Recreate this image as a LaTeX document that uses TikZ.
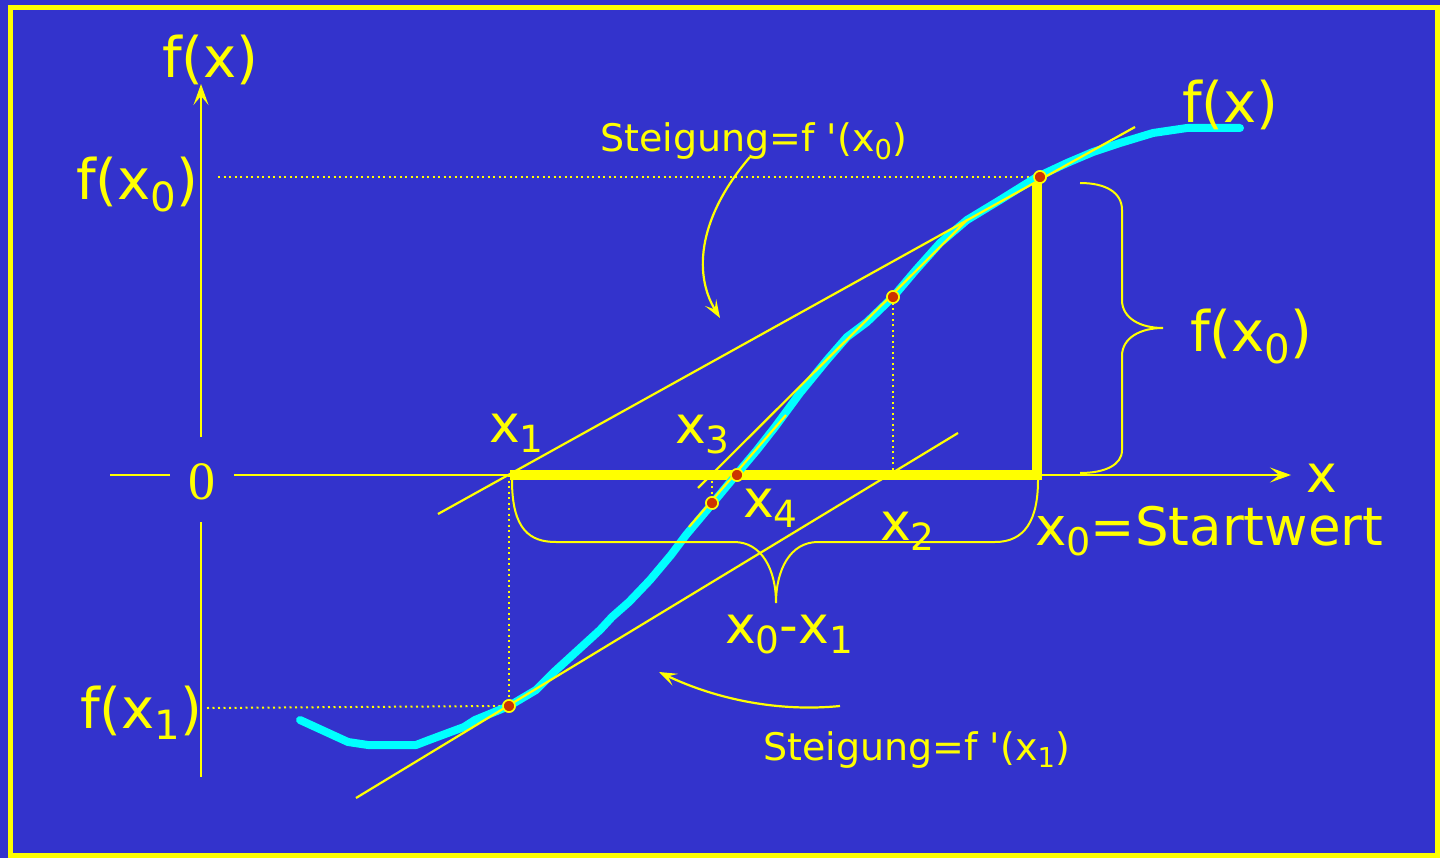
\documentclass[tikz,border=0pt]{standalone}
\usepackage{fontspec}
\setmainfont{DejaVu Sans}[Ligatures=TeXOff]
\newfontfamily\zerofont{Liberation Serif}
\usetikzlibrary{arrows.meta}
\definecolor{bgblue}{RGB}{51,51,204}
\definecolor{ylw}{RGB}{255,255,0}
\definecolor{cyn}{RGB}{0,255,255}
\definecolor{dotred}{RGB}{204,51,0}
\newcommand{\lowsub}[1]{\raisebox{-0.2em}{\scalebox{0.72}{#1}}}
\begin{document}
\begin{tikzpicture}[x=1pt,y=-1pt,
  every node/.style={inner sep=0pt, text=ylw},
  thinline/.style={ylw, line width=2.2pt},
  axisline/.style={ylw, line width=2.4pt},
  dotline/.style={ylw, line width=2pt, dash pattern=on 2pt off 3.5pt},
  barline/.style={ylw, line width=10pt, line join=miter},
  fcurve/.style={cyn, line width=8pt, line cap=round, line join=round},
  bracepath/.style={ylw, line width=2pt},
  axtip/.style={-{Stealth[length=21pt, width=15pt, inset=9pt]}},
  curvtip/.style={-{Stealth[length=18pt, width=13pt, inset=8pt]}},
  ptmark/.style={circle, fill=dotred, draw=ylw, line width=1.6pt, minimum size=12pt, inner sep=0pt},
  big/.style={font=\fontsize{56}{60}\selectfont, anchor=base west},
  mid/.style={font=\fontsize{52}{56}\selectfont, anchor=base west},
  small/.style={font=\fontsize{38}{42}\selectfont, anchor=base west}]
\fill[bgblue] (0,0) rectangle (1440,858);
\useasboundingbox (0,0) rectangle (1440,858);
\draw[ylw, line width=5pt] (10,8) rectangle (1437,855);

% coordinates
\coordinate (X1) at (509,475);
\coordinate (X2) at (893,475);
\coordinate (X3) at (712,475);
\coordinate (yaxA) at (201,437);
\coordinate (yaxTop) at (201,84);
\coordinate (yaxB) at (201,522);
\coordinate (yaxBot) at (201,777);
\coordinate (xaxA) at (110,475);
\coordinate (xaxB) at (170,475);
\coordinate (xaxC) at (234,475);
\coordinate (xaxEnd) at (1291,475);

% axes
\draw[axisline, axtip] (yaxA) -- (yaxTop);
\draw[axisline] (yaxB) -- (yaxBot);
\draw[axisline] (xaxA) -- (xaxB);
\draw[axisline, axtip] (xaxC) -- (xaxEnd);

% points
\node[ptmark] (P0) at (1040,177) {};
\node[ptmark] (P1) at (509,706) {};
\node[ptmark] (P2) at (893,297) {};
\node[ptmark] (P3) at (712,503) {};
\node[ptmark] (P4) at (737,475) {};

% dotted guides
\coordinate (D0) at (218,177);
\coordinate (D1) at (207,708);
\draw[dotline] (D0) -- (P0.west);
\draw[dotline] (D1) -- (P1.west);
\draw[dotline] (X1) -- (P1.north);
\draw[dotline] (X2) -- (P2.south);
\draw[dotline] (X3) -- (P3.north);

% thick bars
\draw[barline] (510,475) -- (1037,475) -- (1037,182);

% function curve
\draw[fcurve] (300,720) -- (348,742) -- (368,745) -- (416,745) -- (429,740) -- (464,727) -- (475,720)
  -- (509,706) -- (536,690) -- (554,672) -- (600,630) -- (612,617) -- (629,602) -- (650,580)
  -- (671,555) -- (686,535) -- (707,510) -- (736,475) -- (757,450) -- (775,427) -- (800,393)
  -- (827,360) -- (847,337) -- (867,322) -- (893,297) -- (915,271) -- (940,243) -- (967,220)
  -- (1000,200) -- (1037,177) -- (1067,163) -- (1093,152) -- (1120,143) -- (1153,133)
  -- (1187,128) -- (1240,128);

% tangents
\coordinate (T0a) at (438,514); \coordinate (T0b) at (1135,127);
\coordinate (T1a) at (356,798); \coordinate (T1b) at (958,433);
\coordinate (T2a) at (698,488); \coordinate (T2b) at (967,220);
\coordinate (T3a) at (689,527); \coordinate (T3b) at (786,415);
\draw[thinline] (T0a) -- (T0b);
\draw[thinline] (T1a) -- (T1b);
\draw[thinline] (T2a) -- (T2b);
\draw[thinline] (T3a) -- (T3b);

% braces
\draw[bracepath] (512,480) .. controls (512,530) and (530,542) .. (556,542) -- (734,542)
  .. controls (762,542) and (776,570) .. (776,603)
  .. controls (776,570) and (790,542) .. (818,542) -- (995,542)
  .. controls (1025,542) and (1038,520) .. (1038,480);
\draw[bracepath] (1080,183) .. controls (1105,183) and (1122,192) .. (1122,210) -- (1122,300)
  .. controls (1122,318) and (1140,328) .. (1163,328)
  .. controls (1140,328) and (1122,338) .. (1122,356) -- (1122,450)
  .. controls (1122,465) and (1105,473) .. (1080,473);

% redraw points on top
\node[ptmark] at (P0) {};
\node[ptmark] at (P1) {};
\node[ptmark] at (P2) {};
\node[ptmark] at (P3) {};
\node[ptmark] at (P4) {};

% labels
\node[big] (fxl) at (162,78) {f(x)};
\node[big] (fx0l) at (76,200) {f(x\lowsub{0})};
\node[big] (fx1l) at (80,728) {f(x\lowsub{1})};
\node[font=\fontsize{54}{58}\selectfont\zerofont, anchor=base] (zero) at (202,499) {0};
\node[big] (fxr) at (1182,123) {f(x)};
\node[big] (fx0r) at (1190,352) {f(x\lowsub{0})};
\node[mid] (xax) at (1306,492) {x};
\node[font=\fontsize{53}{57}\selectfont, anchor=base west] (start) at (1035,545) {x\lowsub{0}=Startwert};
\node[mid] (x1l) at (489,442) {x\lowsub{1}};
\node[mid] (x3l) at (675,443) {x\lowsub{3}};
\node[mid] (x4l) at (743,517) {x\lowsub{4}};
\node[mid] (x2l) at (880,540) {x\lowsub{2}};
\node[mid] (dxl) at (725,643) {x\lowsub{0}-x\lowsub{1}};
\node[small] (s0) at (600,152) {Steigung=f '(x\lowsub{0})};
\node[small] (s1) at (763,760) {Steigung=f '(x\lowsub{1})};

% curved arrows
\coordinate (A0s) at (750,157); \coordinate (A0e) at (720,318);
\coordinate (A1s) at (840,706); \coordinate (A1e) at (659,672);
\draw[thinline, curvtip] (A0s) .. controls (700,215) and (692,272) .. (A0e);
\draw[thinline, curvtip] (A1s) .. controls (780,712) and (718,700) .. (A1e);
\end{tikzpicture}
\end{document}
